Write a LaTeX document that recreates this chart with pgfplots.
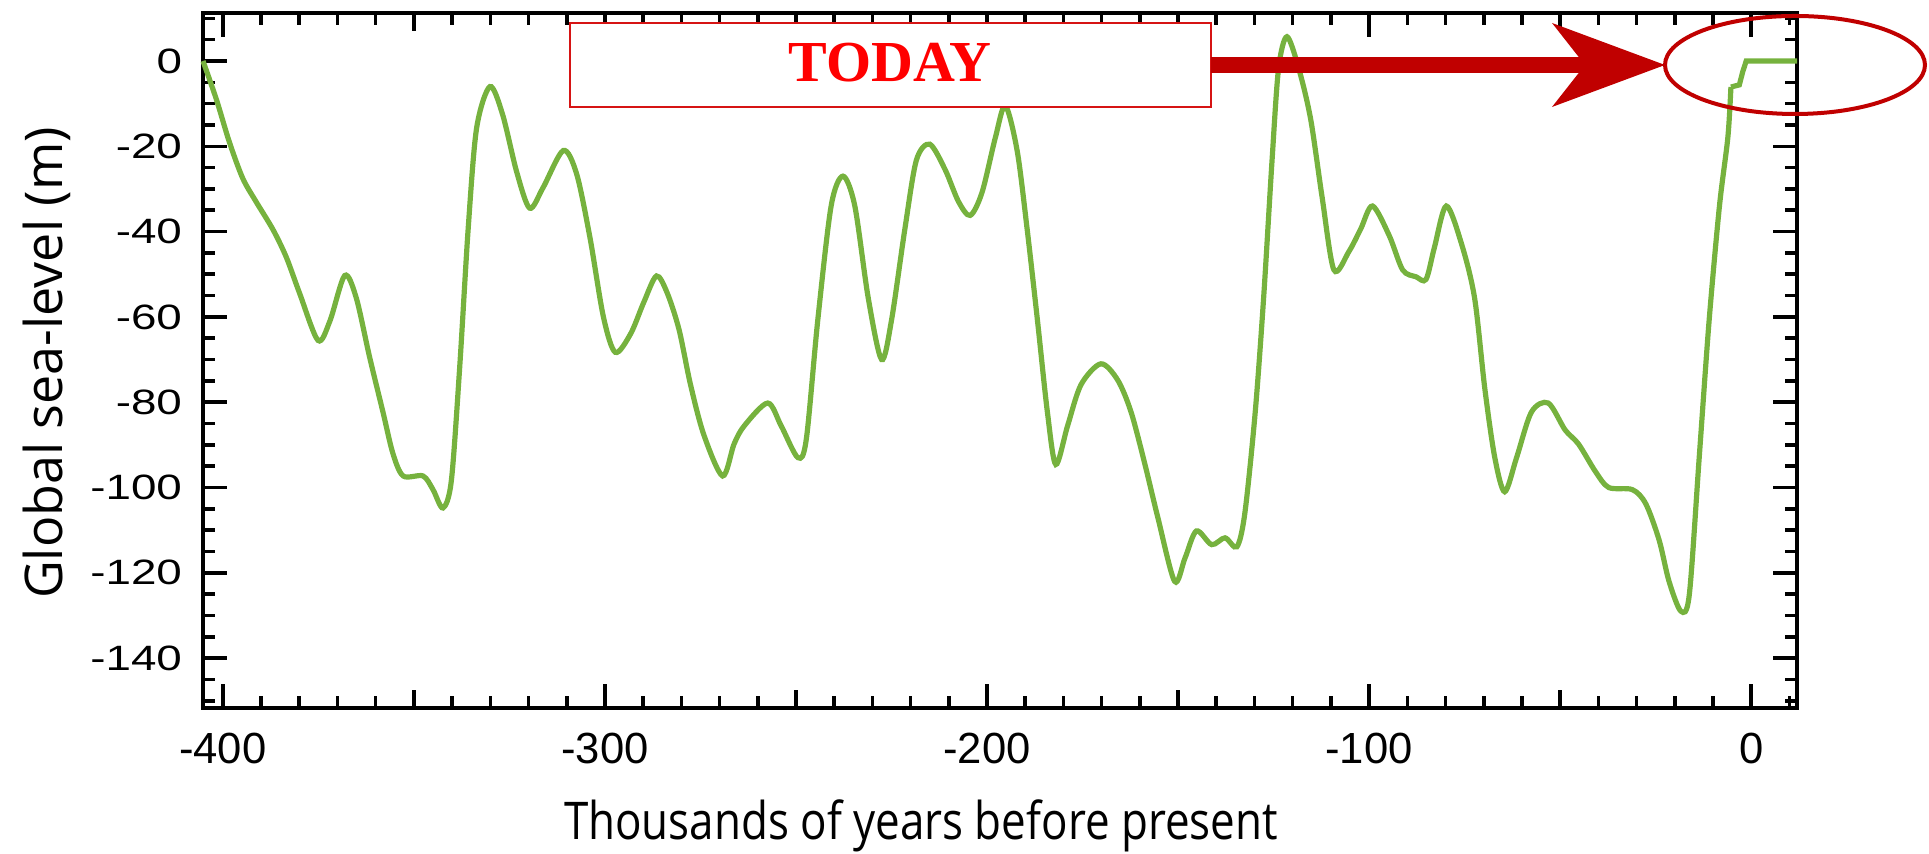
\documentclass[border=0pt]{standalone}
\usepackage{fontspec}
\setmainfont{Liberation Sans}
\newfontfamily\labelfont{Open Sans}
\newfontfamily\todayfont{Liberation Serif}
\usepackage{pgfplots}
\pgfplotsset{compat=1.18}
\definecolor{curvegreen}{RGB}{118,178,62}
\definecolor{darkred}{RGB}{192,0,0}
\definecolor{boxred}{RGB}{214,20,20}
\begin{document}
\begin{tikzpicture}
\begin{axis}[
  at={(0,0)}, anchor=south west,
  scale only axis, width=398.5pt, height=173.75pt,
  xmin=-405.2, xmax=12, ymin=-151.7, ymax=11.26,
  xtick={-400,-300,-200,-100,0},
  xticklabels={-400,-300,-200,-100,0},
  minor xtick={-400,-390,...,10},
  extra x ticks={-350,-250,-150,-50},
  extra x tick labels={},
  extra x tick style={major tick length=4.5pt},
  ytick={-140,-120,-100,-80,-60,-40,-20,0},
  yticklabels={-140,-120,-100,-80,-60,-40,-20,0},
  minor ytick={-150,-145,...,10},
  major tick length=6pt, minor tick length=3pt,
  tick align=inside,
  axis line style={line width=1.1pt},
  every tick/.style={black, line width=0.9pt},
  xticklabel style={font=\fontsize{10.9}{12}\selectfont, inner sep=0pt, anchor=north, yshift=-6pt},
  yticklabel style={font=\fontsize{8.8}{10}\selectfont, inner sep=0pt, anchor=east, xshift=-5pt, xscale=1.3},
  clip=false,
]
\addplot[curvegreen, line width=1.3pt, smooth, tension=0.5] coordinates {
(-405.2,0) (-401.7,-9) (-398.3,-19) (-394.8,-27.5) (-391.3,-33) (-386.9,-39.5)
(-383.4,-46) (-379.9,-54.5) (-375.1,-65.5) (-372.0,-61) (-368.1,-50.3) (-365.1,-55.5)
(-361.6,-69.4) (-358.1,-82.3) (-355.5,-92) (-352.8,-97.3) (-347.6,-97.3) (-345.0,-100.5)
(-342.4,-104.8) (-340.2,-98.4) (-338.0,-71.6) (-335.8,-39.4) (-333.6,-15.8) (-330.1,-6)
(-326.8,-12.5) (-323.1,-26) (-319.7,-34.5) (-316.2,-29.7) (-310.9,-21) (-307.4,-26.5)
(-303.9,-41.5) (-300.4,-60) (-297.3,-68.3) (-293.3,-64) (-289.8,-56.5) (-286.5,-50.4)
(-283.7,-54.4) (-280.6,-63) (-277.6,-75.9) (-274.1,-87.7) (-269.2,-97.3) (-266.2,-89.8)
(-263.5,-85.5) (-257.4,-80.2) (-253.9,-85.5) (-249.5,-93) (-247.3,-88.7) (-244.3,-60.8)
(-240.8,-34) (-237.7,-27) (-234.6,-34) (-231.1,-55.5) (-227.6,-70) (-225.0,-60.8)
(-221.5,-39.4) (-218.5,-23.3) (-215.0,-19.5) (-211.0,-25.4) (-207.5,-32.9) (-204.4,-36.2)
(-201.3,-30.8) (-197.8,-17.9) (-195.2,-10.5) (-192.1,-21.1) (-189.5,-39.4) (-186.8,-60.8)
(-184.2,-82.3) (-182.0,-94.6) (-178.9,-85.5) (-175.4,-75.9) (-170.2,-71) (-165.8,-74.8)
(-162.3,-82.3) (-158.8,-94.1) (-155.3,-107) (-150.9,-122) (-148.2,-116.6) (-145.2,-110.2)
(-141.2,-113.4) (-137.7,-111.8) (-134.6,-113.9) (-132.5,-105.9) (-129.8,-82.3) (-127.6,-55.5)
(-125.4,-23.3) (-123.7,-1.8) (-121.5,5.7) (-118.4,-1.8) (-115.3,-13.6) (-112.3,-31.9)
(-109.2,-49) (-105.3,-44.7) (-102.2,-39.4) (-99.1,-34) (-94.7,-41) (-91.2,-49)
(-87.7,-50.6) (-85.1,-51.2) (-82.9,-43.7) (-79.8,-34) (-75.9,-42.6) (-72.4,-55.5)
(-69.7,-76.9) (-67.1,-93) (-64.5,-101) (-61.4,-93) (-57.5,-82.3) (-53.1,-80.2)
(-48.7,-86.5) (-45.2,-89.8) (-40.8,-96.2) (-37.3,-100) (-31.1,-100.5) (-27.6,-103.8)
(-24.1,-112.3) (-21.5,-122) (-18.4,-129) (-16.2,-125.2) (-13.6,-93) (-11.0,-60.8)
(-8.3,-34) (-6.1,-17.9) (-5.3,-6.1)
};
\addplot[curvegreen, line width=1.3pt] coordinates {
(-5.3,-6.1) (-3.1,-5.6) (-2.2,-2.5) (-1.3,0) (12,0)
};
\end{axis}
% axis labels
\node[anchor=base, xscale=0.845] at (179.5pt,-33pt)
  {\labelfont\fontsize{13}{15}\selectfont Thousands of years before present};
\node[rotate=90, anchor=base] at (-35pt,86.25pt)
  {\labelfont\fontsize{13}{15}\selectfont Global sea-level (m)};
% TODAY annotation
\filldraw[fill=white, draw=boxred, line width=0.6pt] (91.75pt,150.25pt) rectangle (252pt,171.25pt);
\node[text=red, inner sep=0pt] at (171.75pt,161.25pt)
  {\todayfont\bfseries\fontsize{14.5}{16}\selectfont TODAY};
\fill[darkred] (252pt,158.75pt) rectangle (346pt,162.75pt);
\fill[darkred] (337.25pt,171.25pt) -- (365.5pt,160.75pt) -- (337.25pt,150.25pt) -- (345.5pt,160.75pt) -- cycle;
\draw[darkred, line width=1pt] (398pt,160.75pt) ellipse [x radius=32.5pt, y radius=12.25pt];
\pgfresetboundingbox
\useasboundingbox (-50.75pt,-36.5pt) rectangle (431.5pt,177pt);
\end{tikzpicture}
\end{document}
